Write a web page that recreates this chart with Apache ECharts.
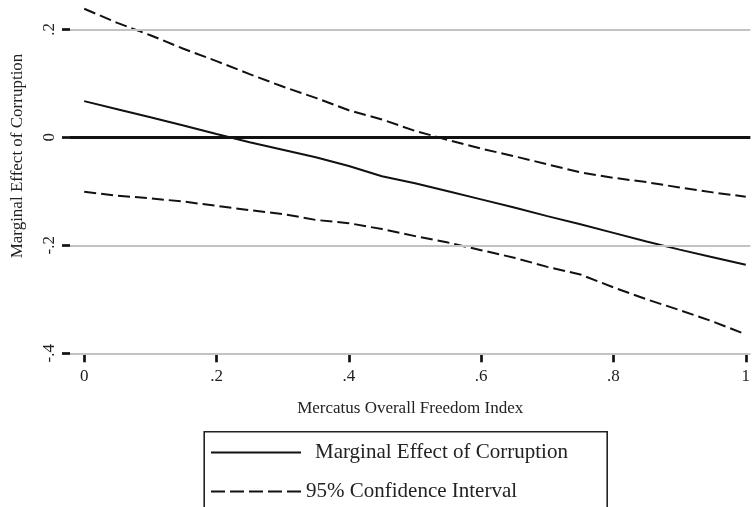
<!DOCTYPE html>
<html>
<head>
<meta charset="utf-8">
<script src="https://cdn.jsdelivr.net/npm/echarts@6/dist/echarts.min.js"></script>
<style>
  html, body { margin: 0; padding: 0; background: #fff; }
  #chart { width: 753px; height: 507px; }
</style>
</head>
<body>
<div id="chart"></div>
<script>
// ---- data ----
var freedomIndex = [0, 0.05, 0.10, 0.15, 0.20, 0.25, 0.30, 0.35, 0.40, 0.45, 0.50,
                    0.55, 0.60, 0.65, 0.70, 0.75, 0.80, 0.85, 0.90, 0.95, 1.00];
var marginalEffect = [0.067, 0.052, 0.037, 0.022, 0.006, -0.009, -0.023, -0.037, -0.053, -0.072, -0.085,
                      -0.100, -0.115, -0.130, -0.146, -0.161, -0.177, -0.193, -0.208, -0.222, -0.236];
var upperCI = [0.238, 0.212, 0.189, 0.164, 0.141, 0.117, 0.094, 0.073, 0.050, 0.033, 0.012,
               -0.005, -0.021, -0.035, -0.050, -0.065, -0.075, -0.083, -0.093, -0.102, -0.110];
var lowerCI = [-0.101, -0.108, -0.113, -0.119, -0.127, -0.135, -0.142, -0.153, -0.159, -0.170, -0.183,
               -0.195, -0.209, -0.223, -0.240, -0.254, -0.278, -0.300, -0.320, -0.341, -0.365];
var xTickValues = [0, 0.2, 0.4, 0.6, 0.8, 1];
var xTickLabels = ['0', '.2', '.4', '.6', '.8', '1'];
var yTickValues = [-0.4, -0.2, 0, 0.2];
var yTickLabels = ['-.4', '-.2', '0', '.2'];
var gridValues = [0.2, -0.2, -0.4];
var zeroValue = 0;
var mainName = 'Marginal Effect of Corruption';
var ciName = '95% Confidence Interval';
var xTitle = 'Mercatus Overall Freedom Index';
var yTitle = 'Marginal Effect of Corruption';

function pairs(ys) { return freedomIndex.map(function (x, i) { return [x, ys[i]]; }); }
function labelFor(values, labels) {
  return function (v) {
    for (var i = 0; i < values.length; i++) if (Math.abs(values[i] - v) < 1e-6) return labels[i];
    return '';
  };
}

var FONT = 'Liberation Serif';
var TEXT = '#222';
var chart = echarts.init(document.getElementById('chart'), null, { renderer: 'canvas' });

var option = {
  animation: false,
  backgroundColor: '#fff',
  grid: { left: 70, right: 0, top: 2.3, bottom: 153.7, containLabel: false },
  xAxis: {
    type: 'value', min: -0.0215, max: 1.007,
    axisLine: { show: false, onZero: false },
    splitLine: { show: false },
    axisTick: { show: true, customValues: xTickValues, length: 9, lineStyle: { color: '#111', width: 2.7 } },
    axisLabel: { show: true, customValues: xTickValues, margin: 15, formatter: labelFor(xTickValues, xTickLabels),
                 fontFamily: FONT, fontSize: 17, color: TEXT },
    name: xTitle, nameLocation: 'middle', nameGap: 47,
    nameTextStyle: { fontFamily: FONT, fontSize: 17, color: TEXT }
  },
  yAxis: {
    type: 'value', min: -0.4, max: 0.25,
    axisLine: { show: false, onZero: false },
    splitLine: { show: false },
    axisTick: { show: true, customValues: yTickValues, length: 8, lineStyle: { color: '#111', width: 2.7 } },
    axisLabel: { show: true, customValues: yTickValues, rotate: 90, margin: 12,
                 formatter: labelFor(yTickValues, yTickLabels),
                 fontFamily: FONT, fontSize: 17, color: TEXT }
  },
  legend: {
    show: true,
    left: 210, top: 442,
    orient: 'vertical',
    itemWidth: 90, itemHeight: 22, itemGap: 18,
    padding: 0,
    data: [
      { name: mainName },
      { name: ciName, lineStyle: { type: [14, 5], width: 2 } }
    ],
    itemStyle: { opacity: 0, borderWidth: 0 },
    formatter: function (n) { return n === mainName ? '{a|' + n + '}' : '{b|' + n + '}'; },
    textStyle: {
      fontFamily: FONT, fontSize: 21, color: TEXT,
      rich: {
        a: { fontFamily: FONT, fontSize: 21, color: TEXT, padding: [0, 0, 0, 9] },
        b: { fontFamily: FONT, fontSize: 21, color: TEXT, padding: [0, 0, 0, 0] }
      }
    }
  },
  graphic: [
    { type: 'rect', left: 201.7, top: 429.3, shape: { width: 403, height: 76 },
      style: { fill: 'none', stroke: '#222', lineWidth: 1.6 }, silent: true },
    { type: 'text', x: 18, y: 156, rotation: Math.PI / 2,
      style: { text: yTitle, font: '17px "Liberation Serif"', fill: TEXT, align: 'center', verticalAlign: 'middle' } }
  ],
  series: [
    {
      name: '_grid', type: 'line', data: [], z: 1, silent: true,
      markLine: {
        silent: true, symbol: 'none', label: { show: false }, animation: false,
        data: gridValues.map(function (v) { return { yAxis: v, lineStyle: { color: '#c3c3c3', width: 2, type: 'solid' } }; })
          .concat([{ yAxis: zeroValue, lineStyle: { color: '#111', width: 3.2, type: 'solid' } }])
      }
    },
    {
      name: mainName, type: 'line', data: pairs(marginalEffect), z: 3,
      symbol: 'none', showSymbol: false,
      lineStyle: { color: '#111', width: 2, type: 'solid' },
      itemStyle: { color: '#111' }
    },
    {
      name: ciName, type: 'line', data: pairs(upperCI), z: 3,
      symbol: 'none', showSymbol: false,
      lineStyle: { color: '#111', width: 2, type: [12, 5] },
      itemStyle: { color: '#111' }
    },
    {
      name: ciName, type: 'line', data: pairs(lowerCI), z: 3,
      symbol: 'none', showSymbol: false,
      lineStyle: { color: '#111', width: 2, type: [12, 5] },
      itemStyle: { color: '#111' }
    }
  ]
};
chart.setOption(option);
</script>
</body>
</html>
